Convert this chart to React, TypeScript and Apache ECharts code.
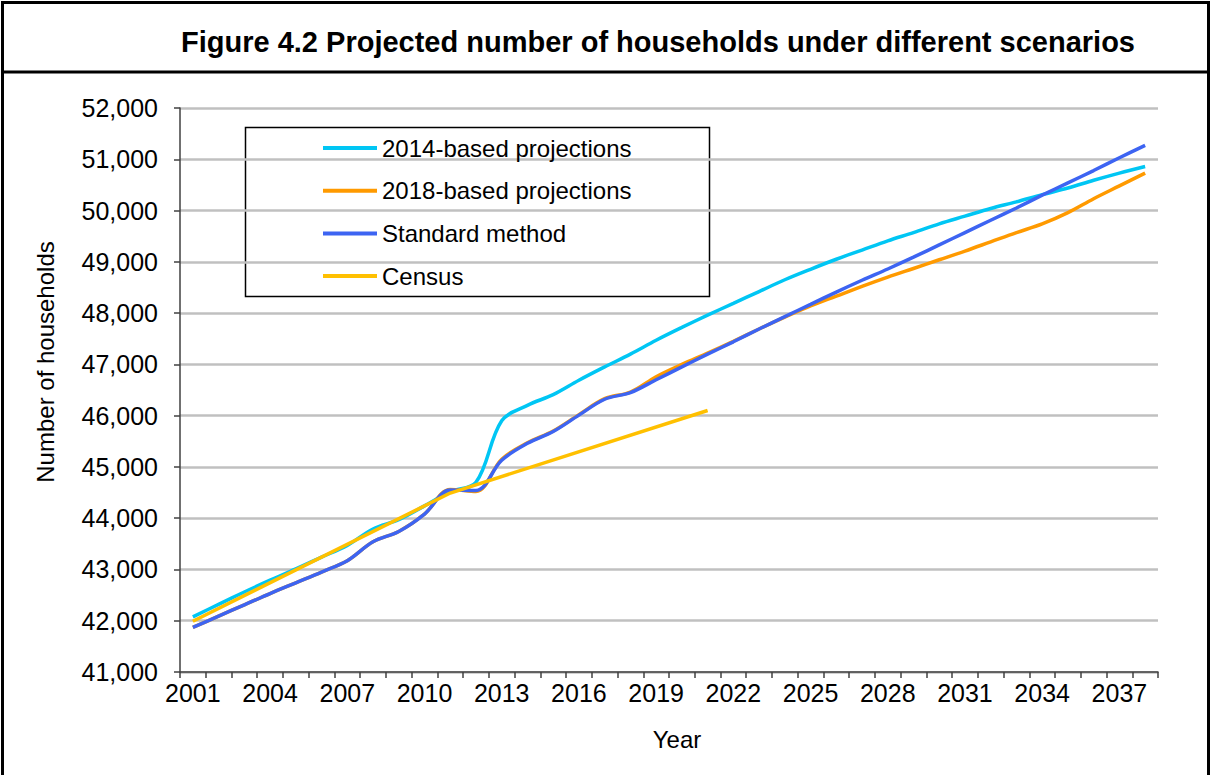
import React, { useEffect, useRef } from "react";
import * as echarts from "echarts";

const years = [
  "2001", "2002", "2003", "2004", "2005", "2006", "2007", "2008", "2009", "2010",
  "2011", "2012", "2013", "2014", "2015", "2016", "2017", "2018", "2019", "2020",
  "2021", "2022", "2023", "2024", "2025", "2026", "2027", "2028", "2029", "2030",
  "2031", "2032", "2033", "2034", "2035", "2036", "2037", "2038",
];

const based2014 = [
  42075, 42320, 42560, 42790, 43010, 43240, 43470, 43790, 43970, 44240,
  44520, 44700, 45900, 46200, 46410, 46690, 46950, 47200, 47470, 47720,
  47960, 48190, 48420, 48650, 48855, 49050, 49230, 49410, 49570, 49740,
  49890, 50040, 50170, 50310, 50440, 50590, 50730, 50860,
];

const based2018 = [
  41870, 42090, 42310, 42530, 42740, 42950, 43170, 43540, 43740, 44080,
  44560, 44520, 45150, 45470, 45700, 46020, 46330, 46460, 46760, 47000,
  47220, 47450, 47690, 47920, 48140, 48330, 48520, 48700, 48870, 49040,
  49210, 49390, 49570, 49740, 49960, 50230, 50480, 50730,
];

const standardMethod = [
  41870, 42090, 42310, 42530, 42740, 42950, 43170, 43540, 43740, 44080,
  44550, 44540, 45130, 45460, 45690, 46010, 46320, 46450, 46700, 46950,
  47200, 47440, 47690, 47930, 48170, 48410, 48640, 48860, 49090, 49330,
  49570, 49810, 50050, 50300, 50540, 50780, 51030, 51270,
];

const census: (number | null)[] = [
  41990, null, null, null, null, null, null, null, null, null,
  44490, null, null, null, null, null, null, null, null, null,
  46100, null, null, null, null, null, null, null, null, null,
  null, null, null, null, null, null, null, null,
];

const seriesNames = [
  "2014-based projections",
  "2018-based projections",
  "Standard method",
  "Census",
];
const seriesColors = ["#00C6F4", "#FF9A00", "#3D64F2", "#FFC000"];

const FONT = "'Liberation Sans', Arial, sans-serif";

export default function App() {
  const ref = useRef<HTMLDivElement>(null);

  useEffect(() => {
    if (!ref.current) return;
    const chart = echarts.init(ref.current, undefined, { renderer: "svg" });
    const dataSets = [based2014, based2018, standardMethod, census];

    chart.setOption({
      animation: false,
      backgroundColor: "#ffffff",
      textStyle: { fontFamily: FONT },
      grid: { left: 180, right: 54, top: 108, bottom: 103, containLabel: false },
      legend: {
        orient: "vertical",
        left: 323,
        top: 135,
        padding: 0,
        itemGap: 16.7,
        itemWidth: 54,
        itemHeight: 4,
        icon: "rect",
        textStyle: {
          fontFamily: FONT,
          fontSize: 24,
          color: "#000",
          lineHeight: 26,
          padding: [0, 0, 0, 0],
        },
        data: seriesNames,
      },
      xAxis: {
        type: "category",
        data: years,
        boundaryGap: true,
        axisLine: { show: true, lineStyle: { color: "#404040", width: 1.5 } },
        axisTick: {
          show: true,
          interval: 0,
          length: 6,
          lineStyle: { color: "#404040", width: 1.5 },
        },
        axisLabel: {
          interval: 2,
          margin: 8,
          fontFamily: FONT,
          fontSize: 25,
          color: "#000",
        },
        splitLine: { show: false },
      },
      yAxis: {
        type: "value",
        min: 41000,
        max: 52000,
        interval: 1000,
        axisLine: { show: true, lineStyle: { color: "#404040", width: 1.5 } },
        axisTick: { show: true, length: 6, lineStyle: { color: "#404040", width: 1.5 } },
        axisLabel: {
          margin: 22,
          fontFamily: FONT,
          fontSize: 25,
          color: "#000",
          formatter: (v: number) => v.toLocaleString("en-GB"),
        },
        splitLine: { show: true, lineStyle: { color: "#C0C0C0", width: 2.5 } },
      },
      series: seriesNames.map((name, i) => ({
        name,
        type: "line",
        data: dataSets[i],
        smooth: i === 3 ? false : 0.35,
        connectNulls: true,
        showSymbol: false,
        symbol: "none",
        color: seriesColors[i],
        lineStyle: { color: seriesColors[i], width: 3.5 },
      })),
      graphic: [
        {
          type: "rect",
          shape: { x: 2.5, y: 2.5, width: 1206, height: 800 },
          style: { fill: "none", stroke: "#000", lineWidth: 3 },
          silent: true,
        },
        {
          type: "line",
          shape: { x1: 2, y1: 72, x2: 1210, y2: 72 },
          style: { stroke: "#000", lineWidth: 3 },
          silent: true,
        },
        {
          type: "text",
          x: 658,
          y: 42,
          style: {
            text: "Figure 4.2 Projected number of households under different scenarios",
            fontFamily: FONT,
            fontSize: 29,
            fontWeight: "bold",
            fill: "#000",
            align: "center",
            verticalAlign: "middle",
          },
        },
        {
          type: "rect",
          shape: { x: 245.5, y: 127.5, width: 464, height: 169 },
          style: { fill: "none", stroke: "#000", lineWidth: 1.5 },
          silent: true,
        },
        {
          type: "text",
          x: 45,
          y: 362,
          rotation: Math.PI / 2,
          style: {
            text: "Number of households",
            fontFamily: FONT,
            fontSize: 24,
            fill: "#000",
            align: "center",
            verticalAlign: "middle",
          },
        },
        {
          type: "text",
          x: 677,
          y: 739,
          style: {
            text: "Year",
            fontFamily: FONT,
            fontSize: 24,
            fill: "#000",
            align: "center",
            verticalAlign: "middle",
          },
        },
      ],
    });

    return () => {
      chart.dispose();
    };
  }, []);

  return (
    <div
      ref={ref}
      style={{ position: "absolute", left: 0, top: 0, width: 1212, height: 775 }}
    />
  );
}
